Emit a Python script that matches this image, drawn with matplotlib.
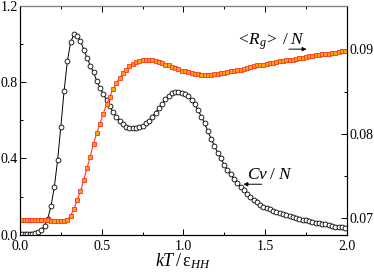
import numpy as np
import matplotlib
matplotlib.use("Agg")
import matplotlib.pyplot as plt
from matplotlib.ticker import MultipleLocator, FixedLocator, FormatStrFormatter

plt.rcParams['font.family'] = ['Liberation Serif', 'DejaVu Serif']
plt.rcParams['mathtext.fontset'] = 'custom'
plt.rcParams['mathtext.rm'] = 'Liberation Serif'
plt.rcParams['mathtext.it'] = 'Liberation Serif:italic'

# temperature grid kT / eps_HH
T = [0.00, 0.015, 0.03, 0.045, 0.06, 0.075, 0.09,
     0.11, 0.13, 0.15, 0.17, 0.19, 0.21, 0.23, 0.25, 0.27, 0.29,
     0.31, 0.33, 0.35, 0.37, 0.39, 0.41, 0.43, 0.45, 0.47, 0.49,
     0.51, 0.53, 0.55, 0.57, 0.59, 0.61, 0.63, 0.65, 0.67, 0.69,
     0.71, 0.73, 0.75, 0.77, 0.79, 0.81, 0.83, 0.85, 0.87, 0.89,
     0.91, 0.93, 0.95, 0.97, 0.99, 1.01, 1.03, 1.05, 1.07, 1.09,
     1.11, 1.13, 1.15, 1.17, 1.19, 1.21, 1.23, 1.25, 1.27, 1.29,
     1.31, 1.33, 1.35, 1.37, 1.39, 1.41, 1.43, 1.45, 1.47, 1.49,
     1.51, 1.53, 1.55, 1.57, 1.59, 1.61, 1.63, 1.65, 1.67, 1.69,
     1.71, 1.73, 1.75, 1.77, 1.79, 1.81, 1.83, 1.85, 1.87, 1.89,
     1.91, 1.93, 1.95, 1.97, 1.99]

# specific heat per monomer (left axis)
cv = [0.003, 0.003, 0.004, 0.005, 0.006, 0.007, 0.010,
      0.016, 0.025, 0.048, 0.085, 0.152, 0.250, 0.390, 0.567, 0.755, 0.909,
      1.009, 1.049, 1.043, 1.016, 0.969, 0.928, 0.886, 0.850, 0.806, 0.770,
      0.737, 0.705, 0.672, 0.642, 0.619, 0.598, 0.581, 0.567, 0.560, 0.558,
      0.560, 0.564, 0.571, 0.585, 0.598, 0.619, 0.640, 0.663, 0.686, 0.710,
      0.728, 0.742, 0.747, 0.748, 0.742, 0.735, 0.725, 0.707, 0.683, 0.652,
      0.619, 0.583, 0.544, 0.503, 0.466, 0.431, 0.400, 0.367, 0.338, 0.317,
      0.292, 0.272, 0.251, 0.233, 0.216, 0.199, 0.184, 0.171, 0.159, 0.148,
      0.139, 0.133, 0.126, 0.120, 0.114, 0.108, 0.103, 0.098, 0.093, 0.088,
      0.084, 0.080, 0.076, 0.072, 0.068, 0.064, 0.061, 0.058, 0.055, 0.051,
      0.047, 0.044, 0.042, 0.039, 0.036]

# radius of gyration per monomer (right axis)
rg = [0.0698, 0.0698, 0.0698, 0.0698, 0.0698, 0.0698, 0.0698,
      0.0698, 0.0698, 0.0698, 0.0698, 0.0697, 0.0697, 0.0696, 0.0696, 0.0696, 0.0698,
      0.0703, 0.0711, 0.0721, 0.0732, 0.0745, 0.0759, 0.0773, 0.0788, 0.0801, 0.0812,
      0.0824, 0.0835, 0.0844, 0.0853, 0.0860, 0.0866, 0.0872, 0.0876, 0.0880, 0.0883,
      0.0885, 0.0886, 0.0887, 0.0888, 0.0888, 0.0887, 0.0886, 0.0885, 0.0884, 0.0882,
      0.0881, 0.0879, 0.0878, 0.0877, 0.0875, 0.0874, 0.0873, 0.0872, 0.0871, 0.0871,
      0.0870, 0.0870, 0.0870, 0.0870, 0.0871, 0.0871, 0.0872, 0.0872, 0.0873, 0.0874,
      0.0875, 0.0876, 0.0876, 0.0877, 0.0878, 0.0879, 0.0880, 0.0881, 0.0882, 0.0882,
      0.0883, 0.0884, 0.0884, 0.0885, 0.0886, 0.0886, 0.0887, 0.0888, 0.0888, 0.0889,
      0.0890, 0.0890, 0.0891, 0.0892, 0.0892, 0.0893, 0.0893, 0.0894, 0.0895, 0.0895,
      0.0896, 0.0896, 0.0897, 0.0898, 0.0898]

fig = plt.figure(figsize=(3.74, 2.79), dpi=100)
ax = fig.add_axes([0.0535, 0.158, 0.8735, 0.822])
ax2 = ax.twinx()

ax.plot(T, cv, color='k', lw=0.7, marker='o', ms=3.5, mfc='white',
        mec='k', mew=0.6, zorder=3)
ax2.plot(T, rg, color='#ff3030', lw=0.8, marker='s', ms=2.7,
         mfc='#ffa500', mec='#ff3030', mew=0.6)

ax.set_xlim(0, 2.0)
ax.set_ylim(0, 1.2)
ax2.set_ylim(0.068, 0.0952)

ax.xaxis.set_major_locator(MultipleLocator(0.5))
ax.xaxis.set_minor_locator(MultipleLocator(0.25))
ax.yaxis.set_major_locator(MultipleLocator(0.4))
ax.yaxis.set_minor_locator(MultipleLocator(0.2))
ax2.yaxis.set_major_locator(FixedLocator([0.07, 0.08, 0.09]))
ax2.yaxis.set_minor_locator(FixedLocator([0.075, 0.085]))

ax.xaxis.set_major_formatter(FormatStrFormatter('%.1f'))
ax.yaxis.set_major_formatter(FormatStrFormatter('%.1f'))
ax2.yaxis.set_major_formatter(FormatStrFormatter('%.2f'))

ax.tick_params(which='both', direction='in', top=True, right=False,
               labelsize=10)
ax.tick_params(axis='x', pad=3.5)
ax.tick_params(axis='y', pad=1.5)
ax.tick_params(which='major', length=4, width=0.7)
ax.tick_params(which='minor', length=2.2, width=0.7)
ax2.tick_params(which='both', direction='in', labelsize=10, pad=2)
ax2.tick_params(which='major', length=4, width=0.7)
ax2.tick_params(which='minor', length=2.2, width=0.7)

for s in ax.spines.values():
    s.set_linewidth(0.8)
for s in ax2.spines.values():
    s.set_linewidth(0.8)
ax2.spines['top'].set_color('#808080')

ax.set_xlabel(r'$kT\,/\,\mathrm{ε}_{HH}$', fontsize=13, labelpad=-1)

ax.text(0.765, 0.829, r'$<\!R_g\!>\;/\;N$', transform=ax.transAxes,
        fontsize=12.5, ha='center', va='baseline')
ax.annotate('', xy=(0.877, 0.81), xytext=(0.823, 0.81),
            xycoords='axes fraction',
            arrowprops=dict(arrowstyle='-|>', lw=0.7, color='k',
                            mutation_scale=6, shrinkA=0, shrinkB=0))
ax.text(0.765, 0.243, r'$Cv\;/\;N$', transform=ax.transAxes,
        fontsize=12.5, ha='center', va='baseline')
ax.annotate('', xy=(0.684, 0.221), xytext=(0.74, 0.221),
            xycoords='axes fraction',
            arrowprops=dict(arrowstyle='-|>', lw=0.7, color='k',
                            mutation_scale=6, shrinkA=0, shrinkB=0))

plt.savefig("out.png", dpi=100)
